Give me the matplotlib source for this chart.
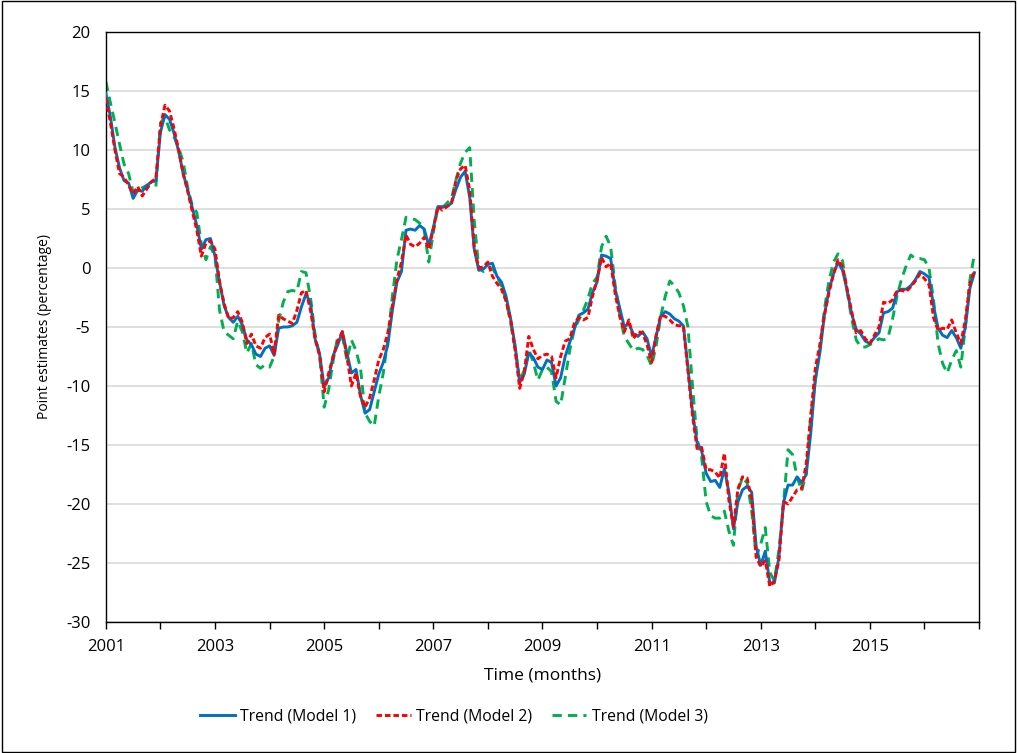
import numpy as np
import matplotlib
matplotlib.use("Agg")
import matplotlib.pyplot as plt
from matplotlib.patches import Rectangle

# Monthly trend estimates, January 2001 to December 2016
trend_model1 = [
    14.8, 12.8, 10.2, 8.5, 7.4, 7.2, 5.9, 6.6, 6.5, 7.0, 7.3, 7.4,
    11.5, 13.0, 12.6, 11.4, 9.9, 8.0, 6.6, 5.1, 3.6, 1.6, 2.4, 2.5,
    1.0, -1.2, -3.2, -4.2, -4.6, -4.1, -4.8, -6.1, -6.5, -7.3, -7.5, -6.8,
    -6.6, -7.4, -5.1, -5.0, -5.0, -4.9, -4.6, -3.3, -2.2, -3.0, -6.0, -7.3,
    -10.1, -9.3, -7.4, -6.5, -5.4, -7.2, -8.9, -8.6, -10.8, -12.3, -12.0, -10.5,
    -9.0, -8.0, -6.5, -3.6, -1.2, -0.3, 3.2, 3.3, 3.2, 3.6, 3.3, 1.9,
    3.4, 5.2, 5.2, 5.2, 5.5, 6.7, 7.7, 8.2, 6.0, 1.6, -0.2, -0.1,
    0.3, 0.4, -0.7, -1.2, -2.4, -4.3, -6.6, -9.7, -9.0, -7.2, -7.6, -8.4,
    -8.6, -7.8, -8.0, -10.0, -9.3, -7.5, -6.3, -5.2, -4.0, -3.8, -3.5, -2.1,
    -1.2, 1.1, 1.0, 0.8, -1.8, -3.4, -5.0, -4.7, -5.6, -5.8, -5.4, -6.0,
    -7.5, -5.8, -4.1, -3.7, -3.9, -4.3, -4.5, -4.9, -8.5, -12.2, -14.8, -15.5,
    -17.4, -18.1, -18.0, -18.6, -17.0, -19.0, -22.1, -19.8, -18.8, -18.5, -19.0, -23.6,
    -25.2, -24.0, -26.7, -26.7, -24.5, -19.9, -18.4, -18.4, -17.7, -18.2, -17.5, -14.0,
    -9.5, -7.2, -4.0, -1.9, -0.5, 0.5, -0.2, -1.9, -3.9, -5.2, -5.6, -6.2,
    -6.4, -5.9, -5.5, -3.8, -3.7, -3.4, -2.0, -1.8, -1.8, -1.5, -1.0, -0.3,
    -0.5, -0.8, -3.2, -5.1, -5.7, -5.9, -5.3, -5.9, -6.8, -5.0, -1.7, -0.4,
]

trend_model2 = [
    14.4, 12.3, 10.0, 8.0, 7.7, 7.0, 6.3, 6.9, 6.1, 6.7, 7.3, 7.6,
    12.0, 13.8, 13.3, 11.8, 10.0, 8.0, 6.5, 4.8, 3.2, 1.0, 2.1, 2.3,
    1.6, -1.2, -3.0, -4.3, -4.2, -3.7, -4.6, -6.4, -5.6, -6.6, -6.8, -5.9,
    -5.6, -7.3, -4.0, -4.3, -4.5, -4.7, -3.6, -2.1, -1.9, -3.6, -6.0, -7.4,
    -10.5, -8.9, -7.5, -6.2, -5.4, -7.5, -10.0, -8.9, -10.9, -11.8, -11.0, -9.5,
    -7.8, -6.9, -5.5, -3.2, -1.0, 0.5, 2.8, 2.0, 1.8, 2.1, 2.6, 1.6,
    3.3, 5.2, 4.9, 5.2, 5.5, 7.5, 8.4, 8.7, 6.6, 1.7, 0.0, 0.1,
    0.5, -0.7, -1.3, -1.8, -2.8, -4.4, -7.0, -10.2, -8.8, -5.8, -6.9, -7.7,
    -7.4, -7.3, -7.5, -9.3, -7.5, -6.2, -6.0, -4.7, -4.2, -4.4, -4.2, -2.4,
    -1.0, 0.9, 0.1, 0.4, -2.2, -4.1, -5.4, -4.4, -6.0, -5.4, -5.5, -6.5,
    -8.0, -5.7, -4.0, -4.1, -4.4, -4.8, -4.9, -4.9, -8.7, -12.5, -15.3, -15.2,
    -17.1, -17.1, -17.3, -17.8, -15.7, -19.7, -21.9, -18.7, -17.7, -17.8, -19.6, -24.5,
    -25.3, -24.8, -27.0, -26.5, -24.8, -19.8, -20.0, -19.4, -18.8, -18.7, -16.6, -12.5,
    -8.5, -6.5, -4.0, -2.1, -0.5, 0.7, 0.1, -1.8, -3.7, -5.5, -5.3, -6.0,
    -6.4, -5.7, -5.0, -2.9, -3.0, -2.7, -1.9, -1.9, -2.0, -1.6, -1.1, -0.5,
    -0.9, -1.4, -4.2, -5.3, -5.1, -5.2, -4.4, -5.5, -6.4, -4.4, -1.3, -0.2,
]

trend_model3 = [
    15.8, 14.0, 12.3, 10.5, 8.8, 8.0, 6.4, 6.6, 6.8, 7.0, 6.9, 6.9,
    12.3, 12.8, 11.7, 11.1, 10.2, 9.0, 6.8, 5.3, 4.7, 2.0, 0.7, 1.8,
    1.0, -3.6, -5.4, -5.7, -6.0, -4.5, -5.4, -7.2, -6.4, -8.2, -8.5, -8.2,
    -8.4, -7.5, -4.5, -2.9, -2.0, -1.9, -2.0, -0.3, -0.4, -2.5, -5.6, -7.4,
    -11.8, -10.3, -7.8, -5.8, -5.8, -7.8, -6.1, -7.0, -8.5, -12.3, -13.0, -13.4,
    -10.9, -8.9, -6.1, -2.4, 0.7, 2.4, 4.3, 4.2, 4.1, 3.8, 3.2, 0.5,
    3.0, 5.1, 5.1, 5.5, 5.9, 7.5, 8.9, 9.8, 10.2, 4.0, 0.0, -0.3,
    0.0, 0.0, -0.7, -1.5, -2.8, -4.6, -6.9, -9.5, -8.7, -6.9, -8.0, -9.5,
    -8.6, -8.4, -8.8, -11.3, -11.6, -9.3, -7.0, -5.2, -4.4, -3.6, -2.6, -1.3,
    -0.8, 1.8, 2.7, 1.8, -1.5, -4.0, -5.8, -6.4, -7.0, -6.8, -6.9, -7.4,
    -8.3, -6.6, -4.1, -2.4, -1.1, -1.5, -2.1, -3.2, -5.0, -10.0, -14.5, -16.0,
    -19.8, -21.0, -21.2, -21.2, -20.6, -22.3, -23.5, -18.8, -17.8, -18.2, -20.5, -24.5,
    -23.4, -22.0, -25.8, -26.5, -23.9, -20.1, -15.4, -15.8, -17.7, -18.9, -17.4, -12.5,
    -9.5, -6.9, -3.5, -1.1, 0.5, 1.2, 0.6, -2.0, -4.3, -6.1, -6.7, -6.7,
    -6.5, -6.3, -6.0, -6.1, -5.9, -4.3, -2.3, -0.9, 0.2, 1.1, 0.8, 0.8,
    0.7, 0.0, -2.7, -6.4, -8.1, -8.9, -7.8, -7.0, -8.4, -5.0, -1.0, 1.2,
]

series_labels = ["Trend (Model 1)", "Trend (Model 2)", "Trend (Model 3)"]
year_ticks = list(range(2001, 2018))
year_labels = [str(y) if y % 2 == 1 and y < 2017 else "" for y in year_ticks]
y_ticks = list(range(-30, 21, 5))

start_year = 2001
months = np.arange(len(trend_model1))
t = start_year + months / 12.0

plt.rcParams["font.family"] = ["Open Sans", "DejaVu Sans"]
plt.rcParams["axes.unicode_minus"] = False

fig = plt.figure(figsize=(10.18, 7.53), dpi=100)
ax = fig.add_axes([0.104, 0.174, 0.8577, 0.7835])

ax.plot(t, trend_model1, color="#0070C0", lw=2.1, solid_joinstyle="round",
        label=series_labels[0], zorder=3)
ax.plot(t, trend_model2, color="#FF0000", lw=2.1, dashes=(1.9, 1.0),
        label=series_labels[1], zorder=4)
ax.plot(t, trend_model3, color="#00B050", lw=2.1, dashes=(3.2, 2.1),
        label=series_labels[2], zorder=2)

ax.set_xlim(2001, 2017)
ax.set_ylim(-30, 20)
ax.set_yticks(y_ticks)
ax.set_xticks(year_ticks)
ax.set_xticklabels(year_labels)
ax.tick_params(axis="x", direction="out", length=5, width=1, colors="black",
               labelsize=12, pad=7)
ax.tick_params(axis="y", length=0, labelsize=12, pad=11)
ax.yaxis.grid(True, color="#D9D9D9", lw=1.2)
ax.set_axisbelow(True)
for s in ax.spines.values():
    s.set_color("black")
    s.set_linewidth(1.0)

ax.set_xlabel("Time (months)", fontsize=12.5, labelpad=9)
ax.set_ylabel("Point estimates (percentage)", fontsize=10, labelpad=10)

fig.legend(loc="center", bbox_to_anchor=(0.446, 0.049), ncol=3,
           frameon=False, fontsize=11.3, handlelength=2.2,
           columnspacing=1.25, handletextpad=0.35)

fig.patches.append(Rectangle((0.0015, 0.001), 0.996, 0.998, transform=fig.transFigure,
                             fill=False, edgecolor="black", lw=1.0))

fig.savefig("out.png", dpi=100, facecolor="white")
